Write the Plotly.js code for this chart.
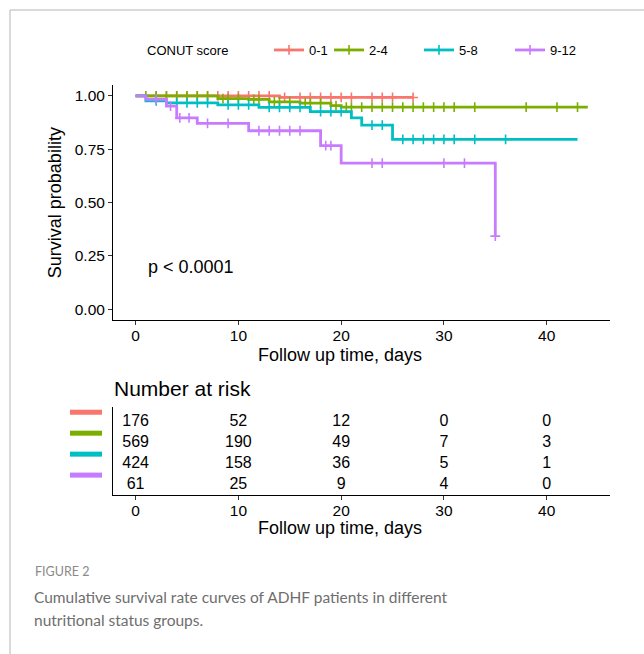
<!DOCTYPE html>
<html><head><meta charset="utf-8">
<script src="https://cdn.plot.ly/plotly-3.0.1.min.js"></script>
<style>html,body{margin:0;padding:0;background:#fff;} #chart{width:644px;height:654px;}</style>
</head><body><div id="chart"></div>
<script>
// ---- data ----
const groups = ['0-1', '2-4', '5-8', '9-12'];
const colors = ['#F8766D', '#7CAE00', '#00BFC4', '#C77CFF'];

// Kaplan-Meier steps: event times and survival after each event
const eventTimes01 = [14];
const eventSurv01 = [0.993];
const censorTimes01 = [2, 3, 4, 5, 6, 7, 8, 9, 10, 11, 12, 13, 14.5, 16, 17, 18, 19, 20, 21, 23, 24, 25, 27];
const endTime01 = 27;

const eventTimes24 = [8, 11, 13, 16, 19, 20];
const eventSurv24 = [0.988, 0.984, 0.972, 0.966, 0.955, 0.948];
const censorTimes24 = [1, 2, 3, 4, 5, 6, 7, 8.5, 9, 10, 11.5, 12, 13.5, 14, 15, 16.5, 17, 18, 19.5, 20.5, 21, 22, 23, 24, 25, 26, 27, 28, 29, 30, 31, 33, 38, 41, 43];
const endTime24 = 44;

const eventTimes58 = [1, 3, 8, 12, 17, 21, 22, 25];
const eventSurv58 = [0.977, 0.968, 0.958, 0.947, 0.927, 0.897, 0.863, 0.797];
const censorTimes58 = [2, 4, 5, 6, 7, 9, 10, 11, 13, 14, 15, 16, 18, 19, 20, 23, 24, 26, 27, 28, 29, 30, 31, 33, 36];
const endTime58 = 43;

const eventTimes912 = [1, 3, 4, 6, 11, 18, 20, 35];
const eventSurv912 = [0.984, 0.952, 0.897, 0.872, 0.837, 0.767, 0.685, 0.343];
const censorTimes912 = [2, 3.4, 4.3, 5.2, 7, 9, 12, 13, 14, 15, 16, 18.5, 19, 23, 24, 30, 32, 35];
const endTime912 = 35;

// number at risk
const riskTimes = [0, 10, 20, 30, 40];
const risk01 = [176, 52, 12, 0, 0];
const risk24 = [569, 190, 49, 7, 3];
const risk58 = [424, 158, 36, 5, 1];
const risk912 = [61, 25, 9, 4, 0];

const xTicks = [0, 10, 20, 30, 40];
const yTicks = [0, 0.25, 0.5, 0.75, 1];
const yTickText = ['0.00', '0.25', '0.50', '0.75', '1.00'];

// ---- build ----
const kmData = [
  [eventTimes01, eventSurv01, censorTimes01, endTime01],
  [eventTimes24, eventSurv24, censorTimes24, endTime24],
  [eventTimes58, eventSurv58, censorTimes58, endTime58],
  [eventTimes912, eventSurv912, censorTimes912, endTime912]
];
const riskData = [risk01, risk24, risk58, risk912];

function survAt(evT, evS, t) {
  let s = 1;
  for (let i = 0; i < evT.length; i++) if (evT[i] <= t) s = evS[i];
  return s;
}
function stepLine(evT, evS, endT) {
  const x = [0], y = [1];
  evT.forEach((t, i) => { x.push(t); y.push(evS[i]); });
  if (endT > x[x.length - 1]) { x.push(endT); y.push(evS.length ? evS[evS.length - 1] : 1); }
  return {x, y};
}

const FONT = 'Liberation Sans, Arial, sans-serif';
const CAPFONT = 'Lato, Open Sans, sans-serif';
const traces = [];
kmData.forEach((d, i) => {
  const [evT, evS, cenT, endT] = d;
  const ln = stepLine(evT, evS, endT);
  traces.push({type: 'scatter', mode: 'lines', x: ln.x, y: ln.y, line: {shape: 'hv', color: colors[i], width: 2.8},
    showlegend: false, hoverinfo: 'skip', xaxis: 'x', yaxis: 'y'});
  traces.push({type: 'scatter', mode: 'markers', x: cenT, y: cenT.map(t => survAt(evT, evS, t)),
    marker: {symbol: 'cross-thin', size: 7, color: colors[i], line: {color: colors[i], width: 1.6}},
    showlegend: false, hoverinfo: 'skip', xaxis: 'x', yaxis: 'y'});
  // legend entry
  traces.push({type: 'scatter', mode: 'lines+markers', x: [null], y: [null], name: groups[i],
    line: {color: colors[i], width: 2.8},
    marker: {symbol: 'cross-thin', size: 7, color: colors[i], line: {color: colors[i], width: 1.6}},
    legend: i === 0 ? 'legend' : 'legend' + (i + 1), xaxis: 'x', yaxis: 'y'});
  // risk table
  traces.push({type: 'scatter', mode: 'text', x: riskTimes, y: riskTimes.map(() => groups[i]),
    text: riskData[i].map(String), textfont: {family: FONT, size: 16, color: '#000'},
    showlegend: false, hoverinfo: 'skip', xaxis: 'x2', yaxis: 'y2'});
});

const W = 644, H = 654;
const px = v => v / W, py = v => 1 - v / H;
const xDom = [px(113), px(610.4)];

const axisCommon = {
  showline: true, linecolor: '#000', linewidth: 1, showgrid: false, zeroline: false,
  ticks: 'outside', ticklen: 4, tickwidth: 1, tickcolor: '#333',
  tickfont: {family: FONT, size: 15.5, color: '#000'}
};

const legendPos = [269, 329, 419, 510];
const legends = {};
legendPos.forEach((x, i) => {
  legends[i === 0 ? 'legend' : 'legend' + (i + 1)] = {
    orientation: 'h', x: px(x), y: py(50), xanchor: 'left', yanchor: 'middle',
    font: {family: FONT, size: 13, color: '#000'}, bgcolor: 'rgba(0,0,0,0)', itemwidth: 30
  };
});

const shapes = [
  {type: 'line', xref: 'paper', yref: 'paper', x0: px(10), x1: 1, y0: py(10), y1: py(10), line: {color: '#b5b5b5', width: 1}},
  {type: 'line', xref: 'paper', yref: 'paper', x0: px(10), x1: px(10), y0: 0, y1: py(10), line: {color: '#b5b5b5', width: 1}}
];
groups.forEach((g, i) => {
  shapes.push({type: 'line', xref: 'paper', yref: 'y2', x0: px(70), x1: px(102), y0: i - 0.46, y1: i - 0.46,
    line: {color: colors[i], width: 5}});
});

const layout = Object.assign({
  width: W, height: H, margin: {l: 0, r: 0, t: 0, b: 0},
  paper_bgcolor: '#fff', plot_bgcolor: '#fff',
  font: {family: FONT, color: '#000'},
  xaxis: Object.assign({}, axisCommon, {domain: xDom, range: [-2.2, 46.2], tickvals: xTicks, anchor: 'y', ticklabelstandoff: -3}),
  yaxis: Object.assign({}, axisCommon, {domain: [py(320), py(85.3)], range: [-0.05, 1.05], tickvals: yTicks, ticktext: yTickText, anchor: 'x',
    title: {text: 'Survival probability', font: {family: FONT, size: 18, color: '#000'}, standoff: 8}}),
  xaxis2: Object.assign({}, axisCommon, {domain: xDom, range: [-2.2, 46.2], tickvals: xTicks, anchor: 'y2', ticklabelstandoff: -3}),
  yaxis2: {domain: [py(495), py(407)], type: 'category', categoryorder: 'array', categoryarray: groups,
    range: [3.49, -0.71], showline: true, linecolor: '#000', linewidth: 1, showgrid: false, zeroline: false,
    showticklabels: false, ticks: '', anchor: 'x2'},
  shapes: shapes,
  annotations: [
    {text: 'Follow up time, days', xref: 'paper', yref: 'paper', x: px(340), y: py(355), xanchor: 'center', yanchor: 'middle', showarrow: false,
      font: {family: FONT, size: 18, color: '#000'}},
    {text: 'Follow up time, days', xref: 'paper', yref: 'paper', x: px(340), y: py(528), xanchor: 'center', yanchor: 'middle', showarrow: false,
      font: {family: FONT, size: 18, color: '#000'}},
    {text: 'p < 0.0001', xref: 'x', yref: 'y', x: 0.97, y: 0.2, xanchor: 'left', yanchor: 'middle', showarrow: false,
      font: {family: FONT, size: 18, color: '#000'}},
    {text: 'Number at risk', xref: 'paper', yref: 'paper', x: px(112), y: py(388), xanchor: 'left', yanchor: 'middle', showarrow: false,
      font: {family: FONT, size: 21, color: '#000'}},
    {text: 'CONUT score', xref: 'paper', yref: 'paper', x: px(145), y: py(50), xanchor: 'left', yanchor: 'middle', showarrow: false,
      font: {family: FONT, size: 13, color: '#000'}},
    {text: 'FIGURE 2', xref: 'paper', yref: 'paper', x: px(33), y: py(571), xanchor: 'left', yanchor: 'middle', showarrow: false,
      font: {family: CAPFONT, size: 12.5, color: '#8a8a8a'}},
    {text: 'Cumulative survival rate curves of ADHF patients in different', xref: 'paper', yref: 'paper',
      x: px(32), y: py(597), xanchor: 'left', yanchor: 'middle', align: 'left', showarrow: false,
      font: {family: CAPFONT, size: 15.5, color: '#6e6e6e'}},
    {text: 'nutritional status groups.', xref: 'paper', yref: 'paper',
      x: px(32), y: py(620), xanchor: 'left', yanchor: 'middle', align: 'left', showarrow: false,
      font: {family: CAPFONT, size: 15.5, color: '#6e6e6e'}}
  ]
}, legends);

Plotly.newPlot('chart', traces, layout, {staticPlot: true, displayModeBar: false});
</script>
</body></html>
